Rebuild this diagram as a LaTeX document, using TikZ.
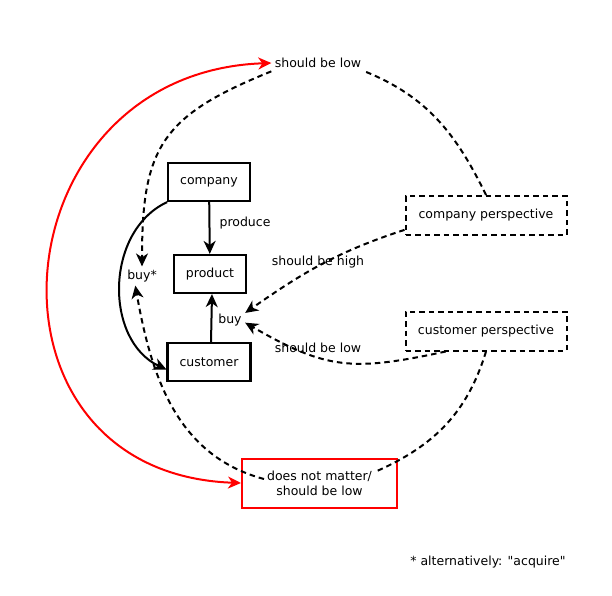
\documentclass[tikz,border=0pt]{standalone}
\usepackage{fontspec}
\setmainfont{DejaVu Sans}
\usetikzlibrary{arrows.meta,positioning}

\tikzset{
  box/.style={draw,line width=2.2pt,minimum height=38pt,inner xsep=12pt},
  persp/.style={draw,line width=2pt,dash pattern=on 5.5pt off 4pt,minimum width=161pt,minimum height=39pt},
  dep/.style={line width=2pt,dash pattern=on 5.5pt off 4pt},
  flow/.style={line width=2pt},
  redbox/.style={draw=red,line width=2pt,minimum width=155pt,minimum height=49pt,align=center}
}

\begin{document}
\begin{tikzpicture}[x=1pt,y=1pt,>={Stealth[length=13pt,width=12pt,inset=4pt]},font=\fontsize{12.5}{15}\selectfont]
\useasboundingbox (0,0) rectangle (612,-595);

\node[box] (company) at (209,-182) {company};
\node[box] (product) at (210,-274) {product};
\node[box] (customer) at (209,-362) {customer};
\node (produce) at (245,-223) {produce};
\node (buylbl) at (230,-320) {buy};
\node (buystar) at (142,-276) {buy*};

\node[persp] (cp) at (486,-215.5) {company perspective};
\node[persp] (custp) at (486,-331) {customer perspective};
\node[redbox] (dnm) at (319.5,-483) {does not matter/\\should be low};
\coordinate (dnmr) at (377,-471);
\coordinate (dnml) at (264,-479);

\node (lowtop) at (318,-63) {should be low};
\node (high) at (318,-262) {should be high};
\node (lowmid) at (318,-348) {should be low};
\node (note) at (488,-562) {* alternatively: \textquotedbl acquire\textquotedbl};

\draw[flow,->] (company) -- (product);
\draw[flow,->] ([xshift=2pt]customer.north) -- ([xshift=2pt]product.south);
\draw[flow,->] (company.south west) to[out=205,in=155,looseness=1.05] (customer.-170);

\draw[dep] (cp.north) to[out=116,in=-22] (lowtop.south east);
\draw[dep,->] (lowtop.south west) to[out=202,in=90,looseness=1.3] (buystar.north);
\draw[dep] (custp.south) to[out=253,in=24] (dnmr);
\draw[dep,->] (dnml) to[out=165,in=280] (buystar.-125);

\draw[dep,->] (cp.190) to[out=198,in=35] (buylbl.25);
\draw[dep,->] (custp.207) to[out=192,in=-30,looseness=1.2] (buylbl.-10);

\draw[red,line width=2pt,<->] (lowtop.west) .. controls +(182:276) and +(178:276) .. (dnm.west);
\end{tikzpicture}
\end{document}
